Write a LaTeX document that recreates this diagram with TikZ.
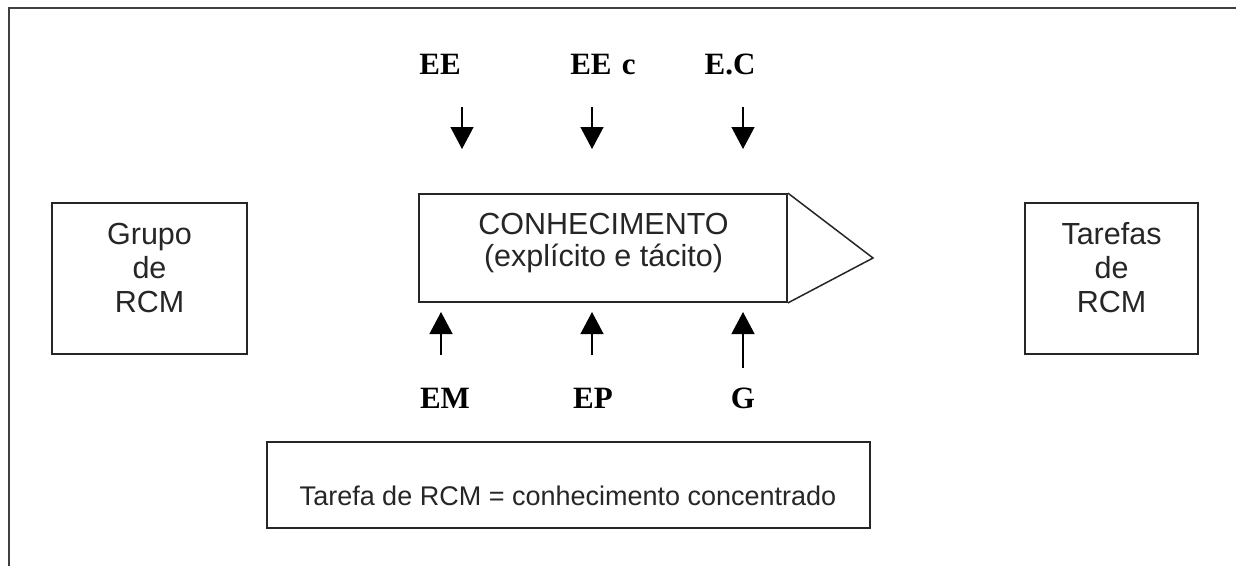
\documentclass[tikz,border=0pt]{standalone}
\usepackage{fontspec}
\setmainfont{Liberation Sans}
\newfontfamily\timesfont{Liberation Serif}
\usetikzlibrary{arrows.meta}
\begin{document}
\begin{tikzpicture}[x=1pt,y=-1pt,
  box/.style={draw=black!85, line width=1.8pt, inner sep=0pt},
  txt/.style={font=\fontsize{30.5}{36}\selectfont, text=black!85, align=center, inner sep=0pt, anchor=base},
  lbl/.style={font=\timesfont\bfseries\fontsize{31}{36}\selectfont, inner sep=0pt, anchor=base},
  feed/.style={line width=1.3pt, -{Triangle[width=23pt,length=22pt]}}]
\useasboundingbox (0,0) rectangle (1236,566);
\fill[white] (0,0) rectangle (1236,566);
\draw[line width=2.4pt, black!75] (9,566) -- (9,8) -- (1236,8);

% side boxes
\node[box, minimum width=195pt, minimum height=151pt] (grupo) at (149.5,278.5) {};
\node[txt] (grupot) at (149.5,244) {Grupo};
\node[txt] (grupod) at (149.5,278) {de};
\node[txt] (grupor) at (149.5,312) {RCM};

\node[box, minimum width=173pt, minimum height=151pt] (tarefas) at (1111.5,278.5) {};
\node[txt] (tarefast) at (1111.5,244) {Tarefas};
\node[txt] (tarefasd) at (1111.5,278) {de};
\node[txt] (tarefasr) at (1111.5,312) {RCM};

% central knowledge box with arrow head
\node[box, minimum width=368pt, minimum height=108pt] (con) at (603,248) {};
\coordinate (tip) at (873,258);
\draw[line width=1.5pt, black!85, line join=miter] (con.north east) -- (tip) -- (con.south east);
\node[txt] (cont1) at (603.5,234) {CONHECIMENTO};
\node[txt] (cont2) at (603.5,266) {(explícito e tácito)};

% bottom box
\node[box, minimum width=603pt, minimum height=86pt] (tar) at (568.5,485) {};
\node[txt, font=\fontsize{27}{32}\selectfont] (tart) at (568,505) {Tarefa de RCM = conhecimento concentrado};

% top labels and arrows
\node[lbl] (ee) at (440,74) {EE};
\node[lbl] (eec) at (603,74) {EE\,\,c};
\node[lbl] (ec) at (730,74) {E.C};
\coordinate (ee1) at (462,107); \coordinate (ee2) at (462,149);
\coordinate (eec1) at (592,107); \coordinate (eec2) at (592,149);
\coordinate (ec1) at (743,107); \coordinate (ec2) at (743,149);
\draw[feed] (ee1) -- (ee2);
\draw[feed] (eec1) -- (eec2);
\draw[feed] (ec1) -- (ec2);

% bottom labels and arrows
\node[lbl] (em) at (445,408) {EM};
\node[lbl] (ep) at (593,408) {EP};
\node[lbl] (g) at (743,408) {G};
\coordinate (em1) at (441,355); \coordinate (em2) at (441,312);
\coordinate (ep1) at (592,355); \coordinate (ep2) at (592,312);
\coordinate (g1) at (743,368); \coordinate (g2) at (743,312);
\draw[feed] (em1) -- (em2);
\draw[feed] (ep1) -- (ep2);
\draw[feed] (g1) -- (g2);
\end{tikzpicture}
\end{document}
